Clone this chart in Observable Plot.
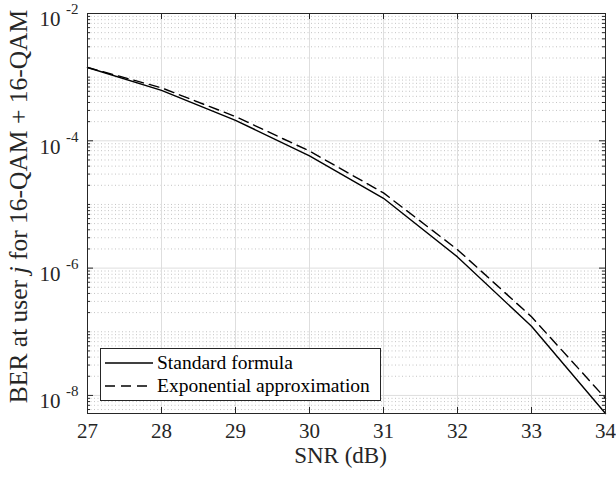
<!DOCTYPE html>
<html><head><meta charset="utf-8">
<script src="https://cdn.jsdelivr.net/npm/d3@7"></script>
<script src="https://cdn.jsdelivr.net/npm/@observablehq/plot@0.6"></script>
<style>
body{margin:0;background:#fff;}
#wrap{position:relative;width:616px;height:479px;font-family:"Liberation Serif",serif;color:#262626;}
#legend{position:absolute;left:100px;top:348px;width:281px;height:53px;border:1px solid #262626;background:#fff;box-sizing:border-box;font-size:19.5px;color:#000;}
#legend .row{position:absolute;left:4px;height:22px;display:flex;align-items:center;white-space:nowrap;}
#legend svg{margin-right:4px;}
</style></head><body><div id="wrap"></div>
<script>
const snr = [27, 28, 29, 30, 31, 32, 33, 34];
const berStandard = [1.42e-3, 6.2e-4, 2.1e-4, 5.8e-5, 1.25e-5, 1.5e-6, 1.22e-7, 5.2e-9];
const berExponential = [1.42e-3, 6.8e-4, 2.4e-4, 6.9e-5, 1.52e-5, 1.95e-6, 1.72e-7, 9.0e-9];
const seriesNames = ["Standard formula", "Exponential approximation"];
const xTicks = [27, 28, 29, 30, 31, 32, 33, 34];
const yMajor = [1e-2, 1e-4, 1e-6, 1e-8];
const yTickExp = ["-2", "-4", "-6", "-8"];
const yDomain = [5.2e-9, 1e-2];
const xLabel = "SNR (dB)";
const yLabel = "BER at user j for 16-QAM + 16-QAM";

const W = 616, H = 479, mL = 87, mR = 11, mT = 13, mB = 66;
const pw = W - mL - mR, ph = H - mT - mB;
const yMinor = d3.scaleLog().domain(yDomain).ticks().filter(v => !yMajor.some(m => Math.abs(m - v) / m < 1e-6));

const rowsStd = snr.map((x, i) => ({snr: x, ber: berStandard[i]}));
const rowsExp = snr.map((x, i) => ({snr: x, ber: berExponential[i]}));
const ink = "#262626";

const chart = Plot.plot({
  width: W, height: H,
  marginLeft: mL, marginRight: mR, marginTop: mT, marginBottom: mB,
  style: {fontFamily: "'Liberation Serif', serif", fontSize: "21px", color: ink, background: "#fff"},
  x: {domain: [27, 34]},
  y: {type: "log", domain: yDomain},
  marks: [
    Plot.ruleY(yMinor, {stroke: "#c4c4c4", strokeDasharray: "1,2.5"}),
    Plot.ruleY(yMajor, {stroke: "#dedede"}),
    Plot.ruleX(xTicks, {stroke: "#dedede"}),
    Plot.line(rowsStd, {x: "snr", y: "ber", stroke: "#000", strokeWidth: 1.4}),
    Plot.line(rowsExp, {x: "snr", y: "ber", stroke: "#000", strokeWidth: 1.4, strokeDasharray: "10,6"}),
    Plot.ruleY(yMajor, {insetRight: pw - 6, stroke: ink}),
    Plot.ruleY(yMajor, {insetLeft: pw - 6, stroke: ink}),
    Plot.ruleY(yMinor, {insetRight: pw - 3, stroke: ink}),
    Plot.ruleY(yMinor, {insetLeft: pw - 3, stroke: ink}),
    Plot.ruleX(xTicks, {insetTop: ph - 6, stroke: ink}),
    Plot.ruleX(xTicks, {insetBottom: ph - 6, stroke: ink}),
    Plot.frame({stroke: ink}),
    Plot.axisX(xTicks, {tickSize: 0, tickPadding: 10, fontSize: 21, label: null, tickFormat: d => String(d)}),
    Plot.axisY({ticks: [], label: null, tickSize: 0}),
    Plot.text(yMajor, {y: d => d, frameAnchor: "left", text: () => "10", textAnchor: "end", dx: -27, dy: 6, fontSize: 21, fill: ink}),
    Plot.text(yMajor, {y: d => d, frameAnchor: "left", text: (d, i) => yTickExp[i], textAnchor: "end", dx: -9, dy: -4, fontSize: 15, fill: ink}),
    Plot.text([xLabel], {frameAnchor: "bottom", text: d => d, lineAnchor: "middle", dx: -6, dy: 42, fontSize: 23, fill: ink}),
    Plot.text([yLabel], {frameAnchor: "left", text: d => d, rotate: -90, textAnchor: "middle", dx: -69, dy: -7, fontSize: 25.5, fill: ink})
  ]
});

// italicise the "j" in the y label
d3.select(chart).selectAll("text").each(function() {
  if (this.textContent === yLabel) {
    const parts = yLabel.split(" j ");
    const t = d3.select(this);
    t.text(null);
    t.append("tspan").text(parts[0] + " ");
    t.append("tspan").attr("font-style", "italic").text("j");
    t.append("tspan").text(" " + parts[1]);
  }
});

const wrap = document.getElementById("wrap");
wrap.appendChild(chart);

const legend = document.createElement("div");
legend.id = "legend";
const dashes = ["none", "10,6"];
seriesNames.forEach((name, i) => {
  const row = document.createElement("div");
  row.className = "row";
  row.style.top = (3 + i * 23) + "px";
  row.innerHTML = `<svg width="48" height="10"><line x1="0" x2="48" y1="5" y2="5" stroke="#000" stroke-width="1.4" stroke-dasharray="${dashes[i]}"/></svg><span>${name}</span>`;
  legend.appendChild(row);
});
wrap.appendChild(legend);
</script></body></html>
